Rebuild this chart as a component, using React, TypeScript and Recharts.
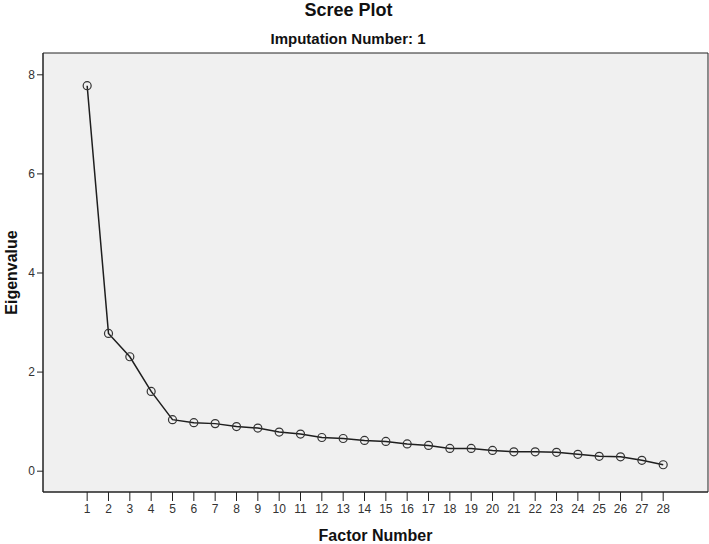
import React from "react";
import {
  LineChart,
  Line,
  XAxis,
  YAxis,
  ReferenceArea,
} from "recharts";

// Eigenvalues, factor 1..28
const factors = [
  1, 2, 3, 4, 5, 6, 7, 8, 9, 10, 11, 12, 13, 14, 15, 16, 17, 18, 19, 20, 21,
  22, 23, 24, 25, 26, 27, 28,
];
const eigenvalues = [
  7.78, 2.78, 2.31, 1.61, 1.04, 0.98, 0.96, 0.9, 0.87, 0.79, 0.75, 0.68, 0.66,
  0.62, 0.6, 0.55, 0.52, 0.46, 0.46, 0.42, 0.39, 0.39, 0.38, 0.34, 0.3, 0.29,
  0.22, 0.13,
];
const yTicks = [0, 2, 4, 6, 8];

const X_DOMAIN: [number, number] = [-1.07, 30.1];
const Y_DOMAIN: [number, number] = [-0.42, 8.44];

const FONT = '"Liberation Sans", Arial, sans-serif';

const data = factors.map((f, i) => ({ factor: f, value: eigenvalues[i] }));

export default function App() {
  return (
    <div
      style={{
        position: "fixed",
        left: 0,
        top: 0,
        width: 709,
        height: 544,
        background: "#fff",
        fontFamily: FONT,
      }}
    >
      <div
        style={{
          position: "absolute",
          top: 0,
          left: 0,
          width: 697,
          textAlign: "center",
          fontWeight: "bold",
          fontSize: 18,
          lineHeight: "20px",
          color: "#111",
        }}
      >
        Scree Plot
      </div>
      <div
        style={{
          position: "absolute",
          top: 29,
          left: 0,
          width: 696,
          textAlign: "center",
          fontWeight: "bold",
          fontSize: 15,
          lineHeight: "19px",
          color: "#111",
        }}
      >
        Imputation Number: 1
      </div>
      <LineChart
        width={709}
        height={544}
        data={data}
        margin={{ top: 53, right: 1, left: 0, bottom: 0 }}
      >
        <ReferenceArea
          x1={X_DOMAIN[0]}
          x2={X_DOMAIN[1]}
          y1={Y_DOMAIN[0]}
          y2={Y_DOMAIN[1]}
          fill="#f0f0f0"
          fillOpacity={1}
          stroke="#222"
          strokeWidth={1}
          ifOverflow="extendDomain"
        />
        <XAxis
          type="number"
          dataKey="factor"
          domain={X_DOMAIN}
          ticks={factors}
          interval={0}
          allowDataOverflow
          height={52}
          tickSize={9}
          tickMargin={3}
          stroke="#222"
          tick={{ fill: "#333", fontSize: 12, fontFamily: FONT }}
          label={{
            value: "Factor Number",
            position: "insideBottom",
            offset: 3,
            fill: "#111",
            fontSize: 16,
            fontWeight: "bold",
            fontFamily: FONT,
          }}
        />
        <YAxis
          type="number"
          domain={Y_DOMAIN}
          ticks={yTicks}
          allowDataOverflow
          width={43}
          tickSize={6}
          tickMargin={2}
          stroke="#222"
          tick={{ fill: "#333", fontSize: 12, fontFamily: FONT }}
          label={{
            value: "Eigenvalue",
            angle: -90,
            position: "center",
            dx: -10,
            fill: "#111",
            fontSize: 16,
            fontWeight: "bold",
            fontFamily: FONT,
          }}
        />
        <Line
          type="linear"
          dataKey="value"
          stroke="#1e1e1e"
          strokeWidth={1.5}
          dot={{ r: 4, stroke: "#333", strokeWidth: 1.2, fill: "none" }}
          activeDot={false}
          isAnimationActive={false}
        />
      </LineChart>
    </div>
  );
}
